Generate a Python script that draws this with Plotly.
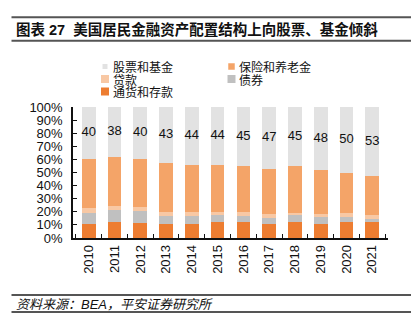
import plotly.graph_objects as go

years = ["2010", "2011", "2012", "2013", "2014", "2015", "2016", "2017", "2018", "2019", "2020", "2021"]
currency = [11, 12, 11.5, 11, 11, 12, 12, 10.5, 12, 10.5, 12, 12]
bonds = [8, 9, 9, 5.5, 5.5, 5.5, 5, 4.8, 5.3, 5.2, 4.3, 2.8]
loans = [4, 3.5, 3, 3, 3.5, 2.5, 2.8, 3.3, 2, 2.5, 2.7, 2.5]
insurance = [37, 37.5, 36.5, 37.5, 36, 36, 35.2, 34.4, 35.7, 33.8, 31, 29.7]
stocks = [40, 38, 40, 43, 44, 44, 45, 47, 45, 48, 50, 53]

names = ["通货和存款", "债券", "贷款", "保险和养老金", "股票和基金"]
colors = ["#ED7D31", "#C0C0C0", "#F8C8A4", "#F4A468", "#E2E2E2"]
series = [currency, bonds, loans, insurance, stocks]

W, H = 419, 336
L, R, T, B = 73, 31, 107, 98
PW, PH = W - L - R, H - T - B

def px(x):
    return (x - L) / PW

def py(y):
    return (H - B - y) / PH

FONT = "Liberation Sans, Arial, Noto Sans CJK SC"

fig = go.Figure()
for n, c, s in zip(names, colors, series):
    fig.add_trace(go.Bar(x=years, y=s, name=n, marker=dict(color=c, line=dict(width=0)),
                         showlegend=False, hoverinfo="skip"))

fig.add_trace(go.Scatter(x=years, y=[100 - s / 2 for s in stocks], mode="text",
                         text=[str(s) for s in stocks], textposition="middle center",
                         textfont=dict(family=FONT, size=13, color="#111"),
                         showlegend=False, hoverinfo="skip"))

shapes = []
annotations = []
# horizontal rules
for yy in (17.3, 40.7, 295, 312):
    shapes.append(dict(type="line", xref="paper", yref="paper", x0=px(11.5), x1=px(411), y0=py(yy), y1=py(yy),
                       line=dict(color="#555555", width=2)))

annotations.append(dict(text="<b>图表 27  美国居民金融资产配置结构上向股票、基金倾斜</b>", xref="paper", yref="paper",
                        x=px(14), y=py(29.8), xanchor="left", yanchor="middle", showarrow=False,
                        font=dict(family=FONT, size=14.5, color="#111")))
annotations.append(dict(text="<i>资料来源：BEA，平安证券研究所</i>", xref="paper", yref="paper",
                        x=px(14), y=py(304.5), xanchor="left", yanchor="middle", showarrow=False,
                        font=dict(family=FONT, size=13, color="#111")))

# legend (manual)
legend_items = [
    ("股票和基金", "#E2E2E2", 105, 66.5, 5),
    ("保险和养老金", "#F4A468", 231.5, 66.5, 6.5),
    ("贷款", "#F8C8A4", 105, 79, 8),
    ("债券", "#C0C0C0", 231.5, 79, 8),
    ("通货和存款", "#ED7D31", 105, 91.5, 8),
]
for text, col, cx, cy, sz in legend_items:
    h = sz / 2
    shapes.append(dict(type="rect", xref="paper", yref="paper", x0=px(cx - h), x1=px(cx + h),
                       y0=py(cy + h), y1=py(cy - h), fillcolor=col, line=dict(width=0)))
    annotations.append(dict(text=text, xref="paper", yref="paper", x=px(cx + 5.5), y=py(cy),
                            xanchor="left", yanchor="middle", showarrow=False,
                            font=dict(family="Noto Sans CJK SC", size=12, color="#111")))

fig.update_layout(
    width=W, height=H,
    margin=dict(l=L, r=R, t=T, b=B),
    barmode="stack", bargap=0.47,
    plot_bgcolor="white", paper_bgcolor="white",
    shapes=shapes, annotations=annotations,
    xaxis=dict(type="category", tickangle=-90, showline=True, linecolor="#111", linewidth=1.5,
               ticks="inside", ticklen=4, tickcolor="#111", tickson="boundaries",
               tickfont=dict(family=FONT, size=13, color="#111"), showgrid=False, fixedrange=True),
    yaxis=dict(range=[0, 100], dtick=10, ticksuffix="%", showline=True, linecolor="#111", linewidth=1.5,
               ticks="inside", ticklen=4, tickcolor="#111", showgrid=False, zeroline=False,
               tickfont=dict(family=FONT, size=13, color="#111"), ticklabelstandoff=6, fixedrange=True),
)

fig.write_html("out.html")
